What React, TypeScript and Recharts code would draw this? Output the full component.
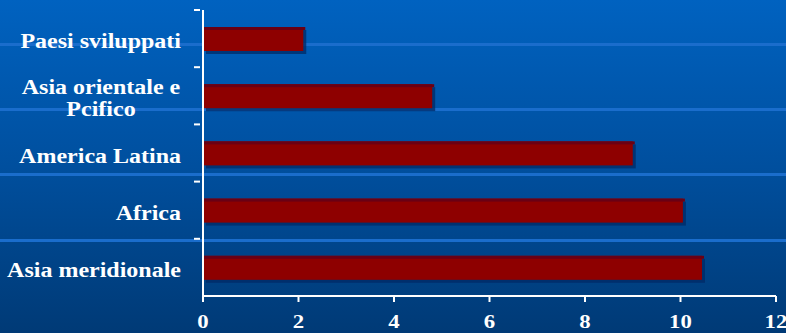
import { BarChart, Bar, XAxis, YAxis } from 'recharts'

const categories = [
  'Paesi sviluppati',
  'Asia orientale e Pcifico',
  'America Latina',
  'Africa',
  'Asia meridionale',
]
const values = [2.1, 4.8, 9.0, 10.05, 10.45]
const xTicks = [0, 2, 4, 6, 8, 10, 12]

const W = 786
const H = 333
const TOP = 10
const BOTTOM = 37
const PLOT_H = H - TOP - BOTTOM
const HALF_BAND = PLOT_H / categories.length / 2
// the original text is drawn slightly stretched horizontally
const STRETCH = 1.2

const data = categories.map((name, i) => ({ name, value: values[i] }))

const font = "'Liberation Serif', 'Times New Roman', serif"

// wrap long labels on word boundaries, max 16 chars per line
function wrap(text: string, max = 16): string[] {
  const lines: string[] = []
  let cur = ''
  for (const w of text.split(' ')) {
    const next = cur ? cur + ' ' + w : w
    if (next.length > max && cur) {
      lines.push(cur)
      cur = w
    } else cur = next
  }
  if (cur) lines.push(cur)
  return lines
}

function Label({ x, y, anchor, size, children }: any) {
  return (
    <text
      transform={`translate(${x},${y}) scale(${STRETCH},1)`}
      textAnchor={anchor}
      fill="#ffffff"
      fontFamily={font}
      fontWeight="bold"
      fontSize={size}
    >
      {children}
    </text>
  )
}

function CategoryTick({ x, y, payload }: any) {
  const lines = wrap(payload.value)
  const right = x - 14
  const lineH = 22
  const firstBase = y + 9.5 - ((lines.length - 1) * lineH) / 2
  return (
    <g>
      <line x1={x - 1} x2={x + 5} y1={y - HALF_BAND} y2={y - HALF_BAND} stroke="#ffffff" strokeWidth={2} />
      {lines.length === 1 ? (
        <Label x={right} y={firstBase} anchor="end" size={20}>
          {lines[0]}
        </Label>
      ) : (
        lines.map((l, i) => (
          <Label key={i} x={right - (lines[0].length * 10) / 2} y={firstBase + i * lineH} anchor="middle" size={20}>
            {l}
          </Label>
        ))
      )}
    </g>
  )
}

function ValueTick({ x, y, payload }: any) {
  return (
    <Label x={x} y={y + 24} anchor="middle" size={19}>
      {payload.value}
    </Label>
  )
}

function ShadedBar({ x, y, width, height }: any) {
  if (!width || width <= 0) return null
  return (
    <g>
      <rect x={x + 3} y={y + 3} width={width} height={height} fill="#002a66" opacity={0.75} />
      <rect x={x} y={y} width={width} height={height} fill="#8e0000" />
      <rect x={x} y={y} width={width + 2} height={3} fill="#6a0014" />
    </g>
  )
}

const bgLines = [44, 109, 174, 240]

export default function App() {
  return (
    <div
      style={{
        position: 'absolute',
        left: 0,
        top: 0,
        width: W,
        height: H,
        overflow: 'hidden',
        background: 'linear-gradient(to bottom, #0062c0 0%, #004f9e 50%, #003a76 100%)',
      }}
    >
      {bgLines.map((t) => (
        <div
          key={t}
          style={{ position: 'absolute', left: 0, top: t - 1, width: W, height: 3, background: '#1a6dcc' }}
        />
      ))}
      <div style={{ position: 'absolute', left: 0, top: 0 }}>
        <BarChart
          width={W}
          height={H}
          data={data}
          layout="vertical"
          margin={{ top: TOP, right: 10, bottom: 0, left: 0 }}
        >
          <XAxis
            type="number"
            domain={[0, 12]}
            ticks={xTicks}
            interval={0}
            height={BOTTOM}
            tick={<ValueTick />}
            axisLine={{ stroke: '#ffffff', strokeWidth: 2 }}
            tickLine={{ stroke: '#ffffff', strokeWidth: 2 }}
            tickSize={6}
          />
          <YAxis
            type="category"
            dataKey="name"
            width={203}
            interval={0}
            tick={<CategoryTick />}
            axisLine={{ stroke: '#ffffff', strokeWidth: 2 }}
            tickLine={false}
            tickSize={6}
          />
          <Bar dataKey="value" barSize={24} shape={<ShadedBar />} isAnimationActive={false} />
        </BarChart>
      </div>
    </div>
  )
}
